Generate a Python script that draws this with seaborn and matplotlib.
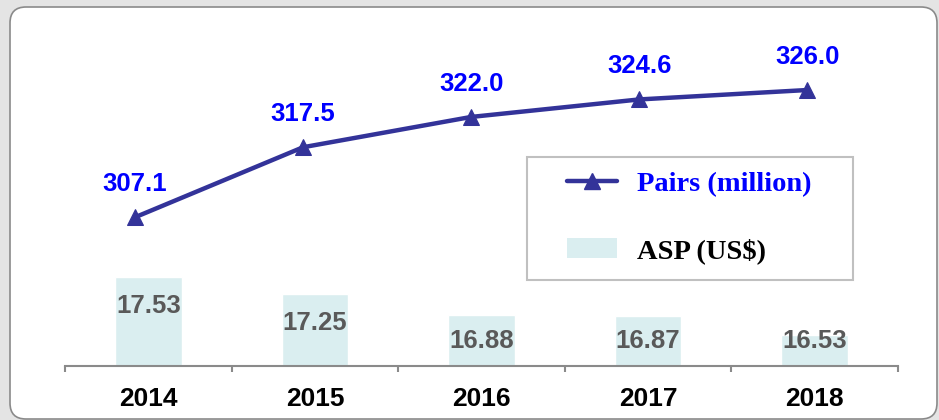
import numpy as np
import pandas as pd
import matplotlib
matplotlib.use("Agg")
import matplotlib.pyplot as plt
from matplotlib.lines import Line2D
from matplotlib.patches import Patch, Rectangle, FancyBboxPatch
import seaborn as sns

# data
years = ["2014", "2015", "2016", "2017", "2018"]
asp = [17.53, 17.25, 16.88, 16.87, 16.53]
pairs = [307.1, 317.5, 322.0, 324.6, 326.0]

bar_color = "#daeef0"
line_color = "#333399"
W, H = 939, 420


def main():
    sns.set_theme(style="white")
    plt.rcParams["font.family"] = ["Liberation Sans", "DejaVu Sans"]

    df = pd.DataFrame({"year": years, "asp": asp, "pairs": pairs})

    fig = plt.figure(figsize=(W / 100, H / 100), dpi=100)
    fig.patch.set_facecolor("#e4e4e4")

    # rounded white panel with grey border
    panel = FancyBboxPatch((10, 1), 927, H - 8, boxstyle="round,pad=0,rounding_size=16",
                           transform=None, facecolor="white", edgecolor="#8a8a8a",
                           linewidth=1.2, zorder=-1)
    fig.add_artist(panel)

    rect = [65 / W, (H - 366) / H, (898 - 65) / W, (366 - 18) / H]
    ax = fig.add_axes(rect)
    ax.set_facecolor("none")

    # bars: ASP
    sns.barplot(data=df, x="year", y="asp", color=bar_color, width=0.4,
                saturation=1, ax=ax)
    ax.set_ylim(16.0, 22.0)
    ax.set_xlim(-0.5, len(years) - 0.5)
    for i, v in enumerate(asp):
        ax.text(i, max(v - 0.5, 16.43), f"{v:.2f}", ha="center", va="center",
                fontsize=18.5, fontweight="bold", color="#595959")

    for s in ["top", "right", "left"]:
        ax.spines[s].set_visible(False)
    ax.spines["bottom"].set_color("#8a8a8a")
    ax.spines["bottom"].set_linewidth(1.5)
    ax.set_yticks([])
    ax.set_xlabel("")
    ax.set_ylabel("")
    ax.set_xticks(np.arange(-0.5, len(years)), labels=[""] * (len(years) + 1))
    ax.tick_params(axis="x", which="major", direction="out", length=4, width=1.5,
                   color="#8a8a8a", bottom=True)
    ax.set_xticks(np.arange(len(years)), labels=years, minor=True)
    ax.tick_params(axis="x", which="minor", length=0, pad=15, labelsize=19)
    for t in ax.get_xticklabels(minor=True):
        t.set_fontweight("bold")
        t.set_color("black")

    # line: pairs, on an overlay axes
    ax2 = fig.add_axes(rect)
    ax2.set_facecolor("none")
    xs = np.arange(len(years))
    sns.lineplot(x=xs, y=pairs, color=line_color, linewidth=3.2, marker="^",
                 markersize=11, markeredgecolor=line_color, ax=ax2)
    ax2.set_xlim(-0.417, 4.541)
    ax2.set_ylim(285.0, 336.7)
    ax2.axis("off")
    for x, v in zip(xs, pairs):
        ax2.annotate(f"{v:.1f}", (x, v), xytext=(0, 24), textcoords="offset points",
                     ha="center", va="center", fontsize=18.5, fontweight="bold",
                     color="#0000ff")

    # legend
    frame = Rectangle((527 / W, (H - 280) / H), (853 - 527) / W, (280 - 157) / H,
                      transform=fig.transFigure, facecolor="white",
                      edgecolor="#c0c0c0", linewidth=1.5, zorder=4)
    fig.add_artist(frame)
    handles = [Line2D([], [], color=line_color, linewidth=3.2, marker="^",
                      markersize=11),
               Patch(facecolor=bar_color, edgecolor="none")]
    leg = fig.legend(handles, ["Pairs (million)", "ASP (US$)"],
                     loc="center left", bbox_to_anchor=(567 / W, (H - 217.5) / H),
                     bbox_transform=fig.transFigure, frameon=False,
                     borderpad=0, borderaxespad=0, handlelength=1.75,
                     handletextpad=0.7, labelspacing=1.45,
                     prop={"family": ["Liberation Serif", "DejaVu Serif"],
                           "weight": "bold", "size": 20.5})
    leg.set_zorder(5)
    leg.get_texts()[0].set_color("#0000ff")
    leg.get_texts()[1].set_color("black")

    fig.savefig("out.png", dpi=100, facecolor=fig.get_facecolor())


if __name__ == "__main__":
    main()
